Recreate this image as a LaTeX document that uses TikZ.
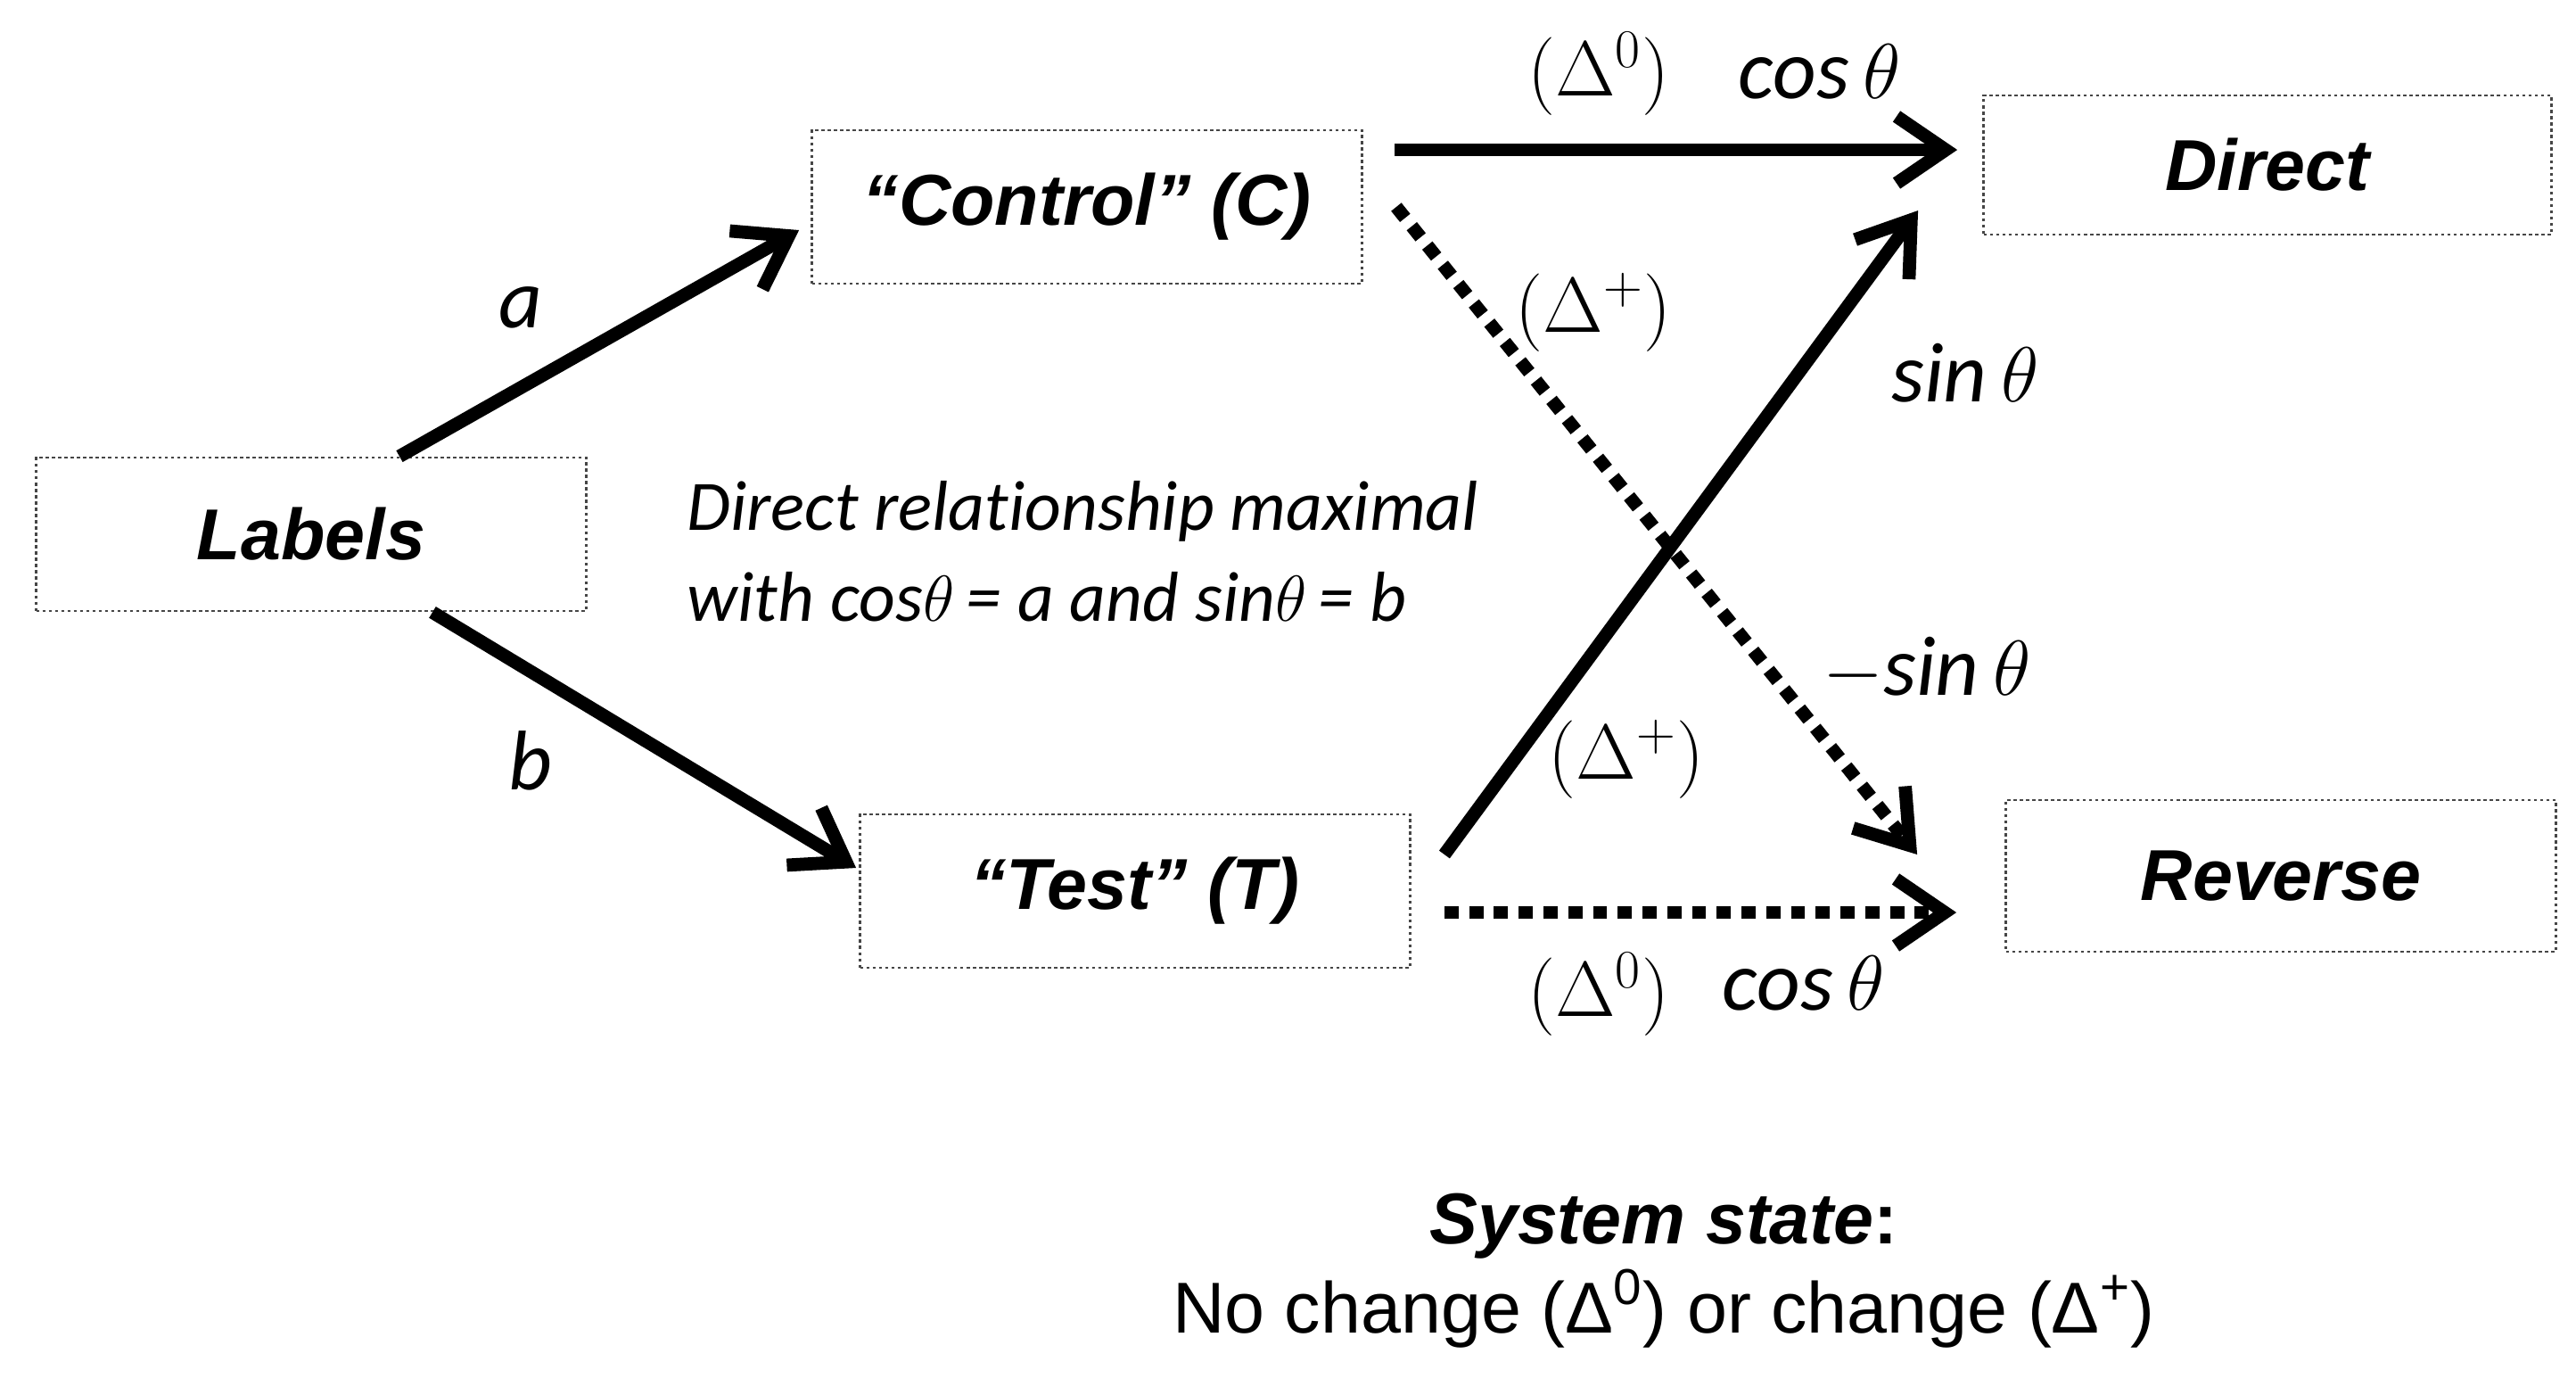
\documentclass[tikz,border=0pt]{standalone}
\usepackage{fontspec}
\setmainfont{Carlito}[Ligatures={NoCommon,NoRequired,NoContextual}, Contextuals=NoAlternate]
\newfontfamily\arialfont{Liberation Sans}
\usepackage{tikz}
\usetikzlibrary{positioning,arrows.meta}
\definecolor{boxgray}{RGB}{70,70,70}
\newcommand{\dstate}[1]{$\bigl(\Delta^{#1}\bigr)$}
\newcommand{\trig}[1]{#1\,$\theta$}
\tikzset{
  stage/.style ={rectangle, draw=boxgray, line width=0.8pt, dash pattern=on 1pt off 1pt,
                minimum width=6.17cm, minimum height=1.72cm, inner sep=0pt,
                font=\arialfont\bfseries\itshape\fontsize{23}{27}\selectfont},
  flow/.style  ={-{Straight Barb[length=5.5mm, width=7.5mm]}, line width=4.2pt},
  dflow/.style ={flow, dash pattern=on 4.5pt off 3.4pt},
  coef/.style  ={font=\itshape\fontsize{27}{32}\selectfont, inner sep=1pt},
  delta/.style ={font=\fontsize{26}{32}\selectfont, inner sep=1pt},
}
\begin{document}
\begin{tikzpicture}
  \useasboundingbox (0,0) rectangle (28.89,-15.63);
  % boxes
  \node[stage] (labels)  at (3.49,-5.99)  {Labels};
  \node[stage] (control) at (12.19,-2.32) {“Control” (C)};
  \node[stage] (test)    at (12.73,-9.99) {“Test” (T)};
  \node[stage, minimum width=6.37cm, minimum height=1.56cm] (direct) at (25.43,-1.85) {Direct};
  \node[stage, minimum height=1.70cm] (reverse) at (25.58,-9.82) {Reverse};
  % arrows
  \draw[flow] ([xshift=0.99cm]labels.north) -- ([xshift=-0.13cm,yshift=-0.26cm]control.west);
  \draw[flow] ([xshift=1.36cm]labels.south) -- ([xshift=-0.03cm,yshift=0.26cm]test.west);
  \draw[flow] ([xshift=0.35cm,yshift=0.64cm]control.east) -- ([xshift=-0.28cm,yshift=0.17cm]direct.west);
  \draw[dflow] ([xshift=0.37cm]control.east) -- ([xshift=-0.98cm,yshift=0.24cm]reverse.west);
  \draw[flow] ([xshift=0.37cm,yshift=0.41cm]test.east) -- ([xshift=-0.72cm,yshift=-0.51cm]direct.west);
  \draw[dflow] ([xshift=0.37cm,yshift=-0.24cm]test.east) -- ([xshift=-0.54cm,yshift=-0.41cm]reverse.west);
  % labels on arrows
  \node[coef] (wa) at (5.84,-3.45) {a};
  \node[coef] (wb) at (5.95,-8.53) {b};
  \node[delta] (d0top) at (17.93,-0.83) {\dstate{0}};
  \node[coef] (costop) at (20.41,-0.80) {\trig{cos}};
  \node[delta] (dpup) at (17.87,-3.50) {\dstate{+}};
  \node[coef] (sinup) at (22.04,-4.18) {\trig{sin}};
  \node[coef] (sindn) at (21.61,-7.50) {$-$\trig{sin}};
  \node[delta] (dplow) at (18.24,-8.51) {\dstate{+}};
  \node[delta] (d0low) at (17.93,-11.15) {\dstate{0}};
  \node[coef] (coslow) at (20.23,-11.02) {\trig{cos}};
  % note
  \node[anchor=west, align=left, inner sep=0pt, font=\itshape\fontsize{22.6}{29}\selectfont] (note) at (7.70,-6.18)
    {Direct relationship maximal\\with cos$\theta$\,= a and sin$\theta$\,= b};
  % legend
  \node[font=\arialfont\bfseries\itshape\fontsize{23}{27}\selectfont] (sys) at (18.66,-13.75) {System state{\upshape:}};
  \node[font=\arialfont\fontsize{23}{27}\selectfont] (chg) at (18.66,-14.67)
    {No change (Δ\textsuperscript{0}) or change (Δ\textsuperscript{+})};
\end{tikzpicture}
\end{document}
